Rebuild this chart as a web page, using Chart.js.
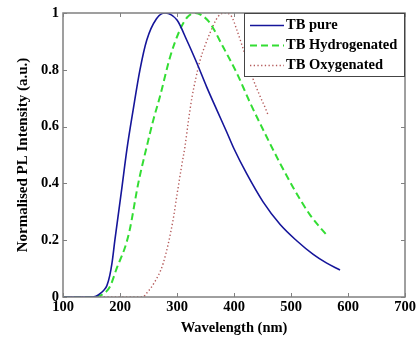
<!DOCTYPE html>
<html>
<head>
<meta charset="utf-8">
<script src="https://cdn.jsdelivr.net/npm/chart.js@4"></script>
<style>
html,body{margin:0;padding:0;background:#fff;}
#wrap{position:relative;width:420px;height:337px;}
</style>
</head>
<body>
<div id="wrap"><canvas id="c" width="420" height="337"></canvas></div>
<script>
// ---- data ----
const seriesLabels = ['TB pure', 'TB Hydrogenated', 'TB Oxygenated'];

const pureWavelength = [100,150,158,165,172,177,182,186,191,197,203,212,223,235,247,264,279,300,317,335,352,370,387,400,422,451,481,510,539,562,586];
const pureIntensity  = [0,0,0.003,0.012,0.025,0.04,0.075,0.12,0.2,0.29,0.38,0.518,0.658,0.80,0.905,0.98,1.0,0.975,0.905,0.823,0.74,0.658,0.582,0.522,0.435,0.335,0.255,0.198,0.15,0.12,0.095];

const hydroWavelength = [100,150,158,170,182,195,209,217,232,247,258,270,288,305,318,332,345,358,381,405,428,457,481,504,533,565];
const hydroIntensity  = [0,0,0.002,0.01,0.035,0.105,0.176,0.236,0.4,0.53,0.62,0.705,0.846,0.94,0.985,1.0,0.99,0.964,0.88,0.788,0.685,0.565,0.47,0.385,0.29,0.212];

const oxyWavelength = [100,200,240,247,260,276,293,300,308,314,320,326,333,340,350,358,372,384,396,405,420,433,445,454,460];
const oxyIntensity  = [0,0,0,0.014,0.05,0.12,0.27,0.36,0.46,0.53,0.62,0.7,0.77,0.83,0.89,0.93,0.987,1.0,0.987,0.94,0.85,0.77,0.71,0.67,0.64];

const xTickValues = [100,200,300,400,500,600,700];
const yTickLabels = ['0','0.2','0.4','0.6','0.8','1'];

const toPoints = (xs, ys) => xs.map((x, i) => ({x: x, y: ys[i]}));

const FONT = "'Liberation Serif', 'Times New Roman', serif";
const AXIS_COLOR = '#808080';

// frame with inward ticks
const framePlugin = {
  id: 'frame',
  afterDraw(chart) {
    const {ctx, chartArea: a, scales} = chart;
    ctx.save();
    ctx.strokeStyle = AXIS_COLOR;
    ctx.lineWidth = 1.5;
    ctx.strokeRect(a.left, a.top, a.right - a.left, a.bottom - a.top);
    ctx.lineWidth = 1;
    const tl = 4;
    ctx.beginPath();
    xTickValues.forEach(v => {
      const px = Math.round(scales.x.getPixelForValue(v)) + 0.5;
      ctx.moveTo(px, a.bottom); ctx.lineTo(px, a.bottom - tl);
      ctx.moveTo(px, a.top); ctx.lineTo(px, a.top + tl);
    });
    yTickLabels.forEach(l => {
      const py = Math.round(scales.y.getPixelForValue(parseFloat(l))) + 0.5;
      ctx.moveTo(a.left, py); ctx.lineTo(a.left + tl, py);
      ctx.moveTo(a.right, py); ctx.lineTo(a.right - tl, py);
    });
    ctx.stroke();
    ctx.restore();
  }
};

// boxed legend in the upper right corner
const legendPlugin = {
  id: 'boxLegend',
  afterDraw(chart) {
    const {ctx, chartArea: a} = chart;
    const x0 = 244, y0 = a.top, w = a.right - x0, h = 64;
    ctx.save();
    ctx.fillStyle = '#fff';
    ctx.fillRect(x0, y0, w, h);
    ctx.strokeStyle = '#444';
    ctx.lineWidth = 1;
    ctx.strokeRect(x0 + 0.5, y0 + 0.5, w - 1, h - 1);
    ctx.font = "bold 14.5px " + FONT;
    ctx.textBaseline = 'middle';
    ctx.fillStyle = '#000';
    chart.data.datasets.forEach((ds, i) => {
      const yy = y0 + 12.5 + i * 20;
      ctx.strokeStyle = ds.borderColor;
      ctx.lineWidth = ds.borderWidth;
      ctx.setLineDash(ds.borderDash || []);
      ctx.beginPath();
      ctx.moveTo(250, yy); ctx.lineTo(284, yy);
      ctx.stroke();
      ctx.setLineDash([]);
      ctx.fillText(ds.label, 286, yy);
    });
    ctx.restore();
  }
};

new Chart(document.getElementById('c'), {
  type: 'line',
  data: {
    datasets: [
      {label: seriesLabels[0], data: toPoints(pureWavelength, pureIntensity), borderColor: '#15159a', borderWidth: 1.6, pointRadius: 0, fill: false, cubicInterpolationMode: 'monotone'},
      {label: seriesLabels[1], data: toPoints(hydroWavelength, hydroIntensity), borderColor: '#33dd33', borderWidth: 2, borderDash: [7, 4], pointRadius: 0, fill: false, cubicInterpolationMode: 'monotone'},
      {label: seriesLabels[2], data: toPoints(oxyWavelength, oxyIntensity), borderColor: '#b45a5a', borderWidth: 1.4, borderDash: [1.3, 2.4], pointRadius: 0, fill: false, cubicInterpolationMode: 'monotone'}
    ]
  },
  options: {
    responsive: false,
    animation: false,
    devicePixelRatio: 1,
    layout: {padding: {top: 13, right: 15, left: 0, bottom: 0}},
    plugins: {legend: {display: false}, tooltip: {enabled: false}, title: {display: false}},
    scales: {
      x: {
        type: 'linear', min: 100, max: 700,
        afterBuildTicks: s => { s.ticks = xTickValues.map(v => ({value: v})); },
        ticks: {color: '#000', font: {family: FONT, size: 14.5, weight: 'bold'}, padding: 2, maxRotation: 0, autoSkip: false},
        grid: {display: false, drawTicks: false},
        border: {display: false},
        title: {display: true, text: 'Wavelength (nm)', color: '#000', font: {family: FONT, size: 14.5, weight: 'bold', lineHeight: 1.2}, padding: {top: 0, bottom: 0}},
        afterFit: s => { s.height = 40; }
      },
      y: {
        type: 'linear', min: 0, max: 1,
        afterBuildTicks: s => { s.ticks = yTickLabels.map(l => ({value: parseFloat(l)})); },
        ticks: {color: '#000', font: {family: FONT, size: 14.5, weight: 'bold'}, padding: 4, callback: (v, i) => yTickLabels[i]},
        grid: {display: false, drawTicks: false},
        border: {display: false},
        title: {display: true, text: 'Normalised PL Intensity (a.u.)', color: '#000', font: {family: FONT, size: 15, weight: 'bold', lineHeight: 1.2}, padding: {top: 14, bottom: 0}},
        afterFit: s => { s.width = 63; }
      }
    }
  },
  plugins: [framePlugin, legendPlugin]
});
</script>
</body>
</html>
